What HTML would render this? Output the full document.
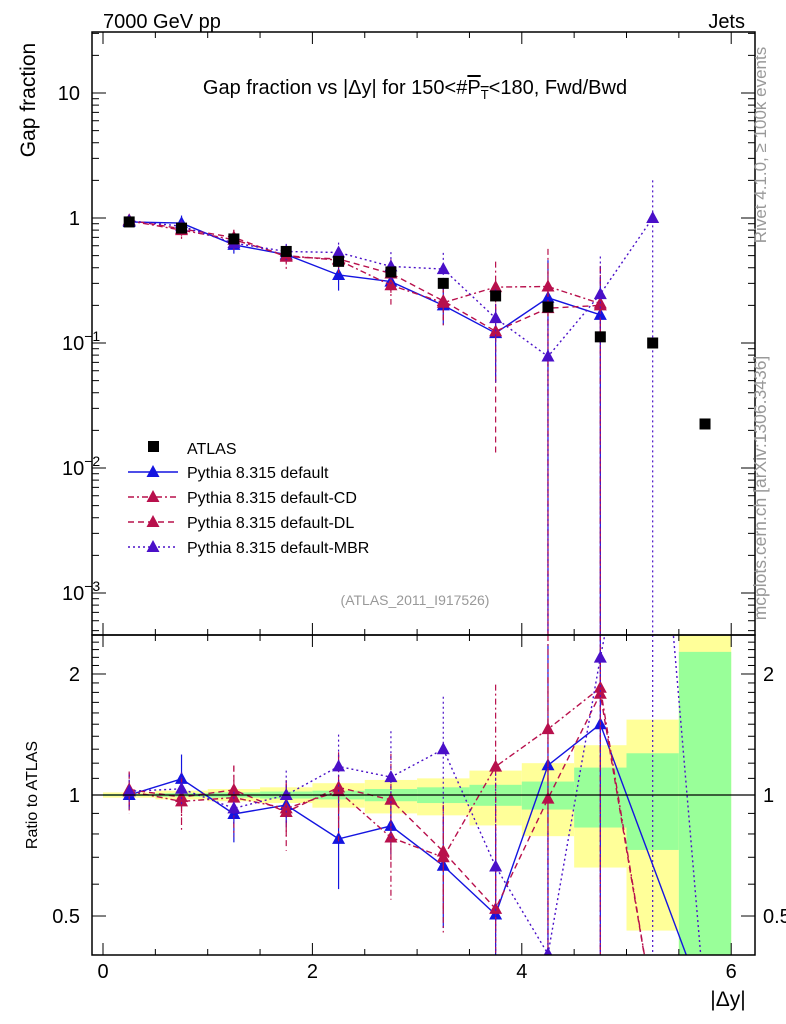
<!DOCTYPE html>
<html><head><meta charset="utf-8">
<style>
html,body{margin:0;padding:0;background:#fff;overflow:hidden;width:786px;height:1024px;}
svg{display:block;font-family:"Liberation Sans",sans-serif;}
</style></head>
<body>
<svg id="chart" width="786" height="1024" viewBox="0 0 786 1024" xmlns="http://www.w3.org/2000/svg">
<defs>
<clipPath id="cMain"><rect x="92" y="32" width="663" height="603"/></clipPath>
<clipPath id="cRatio"><rect x="92" y="635" width="663" height="320"/></clipPath>
</defs>
<g id="bands" clip-path="url(#cRatio)"></g>
<g id="marks"></g>
<g id="axes"></g>
<text x="103" y="28" font-size="20">7000 GeV pp</text>
<text x="745" y="28" font-size="20" text-anchor="end">Jets</text>
<text x="415" y="94" font-size="20" text-anchor="middle">Gap fraction vs |Δy| for 150&lt;#<tspan text-decoration="overline">P<tspan font-size="13" dy="5">T</tspan></tspan><tspan dy="-5">&lt;180, Fwd/Bwd</tspan></text>
<text transform="translate(35,100) rotate(-90)" font-size="21" text-anchor="middle">Gap fraction</text>
<text transform="translate(37,795) rotate(-90)" font-size="16" text-anchor="middle">Ratio to ATLAS</text>
<text x="728" y="1006" font-size="21" text-anchor="middle">|Δy|</text>
<text transform="translate(766,145) rotate(-90)" font-size="17" fill="#999" text-anchor="middle">Rivet 4.1.0, ≥ 100k events</text>
<text transform="translate(766,488) rotate(-90)" font-size="17.5" fill="#999" text-anchor="middle">mcplots.cern.ch [arXiv:1306.3436]</text>
<text x="415" y="605" font-size="14" fill="#999" text-anchor="middle">(ATLAS_2011_I917526)</text>
<g id="legend"></g>
</svg>
<script>
const xCenters=[0.25,0.75,1.25,1.75,2.25,2.75,3.25,3.75,4.25,4.75,5.25,5.75];
const atlas=[0.93,0.83,0.68,0.54,0.45,0.37,0.30,0.238,0.194,0.112,0.10,0.0225];
const pyDefault=[0.93,0.91,0.61,0.51,0.35,0.31,0.20,0.12,0.23,0.168,null,0];
const pyCD=[0.95,0.80,0.67,0.50,0.46,0.29,0.21,0.28,0.283,0.207,0,0];
const pyDL=[0.96,0.82,0.70,0.49,0.47,0.36,0.217,0.124,0.19,0.20,0,0];
const pyMBR=[0.95,0.86,0.63,0.54,0.53,0.41,0.39,0.158,0.078,0.246,1.0,0];
const errDefault=[0.08,0.15,0.15,0.12,0.25,0.15,0.3,0.6,1.0,1.0,0,0];
const errCD=[0.12,0.15,0.2,0.15,0.25,0.3,0.35,0.6,1.0,1.0,0,0];
const errDL=[0.1,0.12,0.15,0.2,0.2,0.3,0.3,0.9,1.0,1.0,0,0];
const errMBR=[0.1,0.1,0.1,0.15,0.2,0.3,0.35,0.7,1.0,1.0,1.0,0];
const binEdges=[0,0.5,1,1.5,2,2.5,3,3.5,4,4.5,5,5.5,6];
const yellowLo=[0.985,0.975,0.965,0.955,0.93,0.9,0.89,0.84,0.79,0.66,0.46,0.4];
const yellowHi=[1.015,1.025,1.035,1.045,1.07,1.09,1.1,1.15,1.2,1.33,1.54,2.5];
const greenLo=[0.995,0.99,0.985,0.98,0.975,0.965,0.955,0.94,0.92,0.83,0.73,0.4];
const greenHi=[1.005,1.01,1.015,1.02,1.025,1.035,1.045,1.06,1.08,1.17,1.27,2.27];

const NS="http://www.w3.org/2000/svg";
const X=v=>103+v*104.7;
const YM=v=>218-125*Math.log10(v);
const YR=v=>795-402*Math.log10(v);
function mk(parent,tag,attrs){const e=document.createElementNS(NS,tag);for(const k in attrs)e.setAttribute(k,attrs[k]);parent.appendChild(e);return e;}
const bands=document.getElementById('bands'),marks=document.getElementById('marks'),axes=document.getElementById('axes'),legend=document.getElementById('legend');

for(let i=0;i<binEdges.length-1;i++){
  const y=mk(bands,'rect',{x:X(binEdges[i]),y:Math.max(635,YR(yellowHi[i])),width:X(binEdges[i+1])-X(binEdges[i]),height:Math.min(955,YR(yellowLo[i]))-Math.max(635,YR(yellowHi[i])),fill:'#ffff99'});
  
  
  const g=mk(bands,'rect',{x:X(binEdges[i]),y:Math.max(635,YR(greenHi[i])),width:X(binEdges[i+1])-X(binEdges[i]),height:Math.min(955,YR(greenLo[i]))-Math.max(635,YR(greenHi[i])),fill:'#99ff99'});
  
  
}
mk(axes,'line',{x1:92,x2:755,y1:YR(1),y2:YR(1),stroke:'#000','stroke-width':1.2});

const series=[
 {name:'default',vals:pyDefault,err:errDefault,color:'#1414e0',dash:'',label:'Pythia 8.315 default'},
 {name:'default-cd',vals:pyCD,err:errCD,color:'#b8104c',dash:'6,3,2,3',label:'Pythia 8.315 default-CD'},
 {name:'default-dl',vals:pyDL,err:errDL,color:'#b8104c',dash:'6,4',label:'Pythia 8.315 default-DL'},
 {name:'default-mbr',vals:pyMBR,err:errMBR,color:'#4a10c8',dash:'2,3',label:'Pythia 8.315 default-MBR'}
];
function tri(parent,x,y,c){return mk(parent,'path',{d:`M${x},${y-7}L${x+6.5},${y+5}L${x-6.5},${y+5}Z`,fill:c});}
const clampM=y=>Math.min(635,Math.max(32,y));
const clampR=y=>Math.min(955,Math.max(635,y));

series.forEach(s=>{
  const gm=mk(marks,'g',{'clip-path':'url(#cMain)'});
  
  
  const gr=mk(marks,'g',{'clip-path':'url(#cRatio)'});
  
  
  let pm='',pr='';
  s.vals.forEach((v,i)=>{
    if(v===null)return;
    const x=X(xCenters[i]);
    const r=Math.max(v/atlas[i],0.3);
    pr+=(pr?'L':'M')+x.toFixed(1)+','+YR(r).toFixed(1);
    if(v>0){
      pm+=(pm?'L':'M')+x.toFixed(1)+','+YM(v).toFixed(1);
      const lo=v*(1-s.err[i]),hi=v*(1+s.err[i]);
      const ylo=lo>0?clampM(YM(lo)):635, yhi=clampM(YM(hi));
      mk(gm,'line',{x1:x,x2:x,y1:yhi,y2:ylo,stroke:s.color,'stroke-width':1.2,'stroke-dasharray':s.dash});
      const rlo=(1-s.err[i])*v/atlas[i],rhi=(1+s.err[i])*v/atlas[i];
      mk(gr,'line',{x1:x,x2:x,y1:clampR(YR(rhi)),y2:rlo>0?clampR(YR(rlo)):955,stroke:s.color,'stroke-width':1.2,'stroke-dasharray':s.dash});
      const t1=tri(gm,x,YM(v),s.color);
      
      
      const t2=tri(gr,x,YR(v/atlas[i]),s.color);
      
      
    }
  });
  mk(gm,'path',{d:pm,fill:'none',stroke:s.color,'stroke-width':1.4,'stroke-dasharray':s.dash});
  mk(gr,'path',{d:pr,fill:'none',stroke:s.color,'stroke-width':1.4,'stroke-dasharray':s.dash});
});
atlas.forEach((v,i)=>{
  const sq=mk(marks,'rect',{x:X(xCenters[i])-5.5,y:YM(v)-5.5,width:11,height:11,fill:'#000'});
  
  
});

mk(axes,'rect',{x:92,y:32,width:663,height:603,fill:'none',stroke:'#000','stroke-width':1.5});
mk(axes,'rect',{x:92,y:635,width:663,height:320,fill:'none',stroke:'#000','stroke-width':1.5});
for(let k=0;k<=12;k++){
  const v=k*0.5,x=X(v),big=k%4===0;
  const L=big?12:6;
  [[32,1],[635,-1],[635,1],[955,-1]].forEach(([y,d])=>mk(axes,'line',{x1:x,x2:x,y1:y,y2:y+d*L,stroke:'#000','stroke-width':1}));
}
['0','2','4','6'].forEach((t,i)=>{const e=mk(axes,'text',{x:X(i*2),y:978,'font-size':20,'text-anchor':'middle'});e.textContent=t;
  
  });
for(let d=-4;d<=1;d++){for(let m=1;m<10;m++){const v=m*Math.pow(10,d),y=YM(v);if(y<32||y>635)continue;const L=m===1?14:7;
  mk(axes,'line',{x1:92,x2:92+L,y1:y,y2:y,stroke:'#000'});mk(axes,'line',{x1:755,x2:755-L,y1:y,y2:y,stroke:'#000'});}}
const mainTicks=[[10,'10',''],[1,'1',''],[0.1,'10','−1'],[0.01,'10','−2'],[0.001,'10','−3']];
mainTicks.forEach(([v,b,e])=>{const t=mk(axes,'text',{x:e?62:80,y:YM(v)+7,'font-size':20,'text-anchor':e?'start':'end'});
  if(e){t.textContent=b;const ts=mk(t,'tspan',{dy:-9,'font-size':14});ts.textContent=e;}else t.textContent=b;
  
  });
for(let m=4;m<=25;m++){const v=m/10,y=YR(v);const L=(m===5||m===10||m===20)?14:7;
  mk(axes,'line',{x1:92,x2:92+L,y1:y,y2:y,stroke:'#000'});mk(axes,'line',{x1:755,x2:755-L,y1:y,y2:y,stroke:'#000'});}
[[2,'2'],[1,'1'],[0.5,'0.5']].forEach(([v,s])=>{
  const a=mk(axes,'text',{x:80,y:YR(v)+7,'font-size':20,'text-anchor':'end'});a.textContent=s;
  
  
  const b=mk(axes,'text',{x:763,y:YR(v)+7,'font-size':20});b.textContent=s;
  
  });
const ly0=447;
const ls=mk(legend,'rect',{x:148,y:ly0-6,width:11,height:11,fill:'#000'});


const lt=mk(legend,'text',{x:187,y:ly0+7,'font-size':16});lt.textContent='ATLAS';


series.forEach((s,i)=>{const y=ly0+25*(i+1);
  mk(legend,'line',{x1:128,x2:178,y1:y,y2:y,stroke:s.color,'stroke-width':1.4,'stroke-dasharray':s.dash});
  tri(legend,153,y,s.color);
  const t=mk(legend,'text',{x:187,y:y+6,'font-size':16});t.textContent=s.label;
  
  });
</script>
</body></html>
